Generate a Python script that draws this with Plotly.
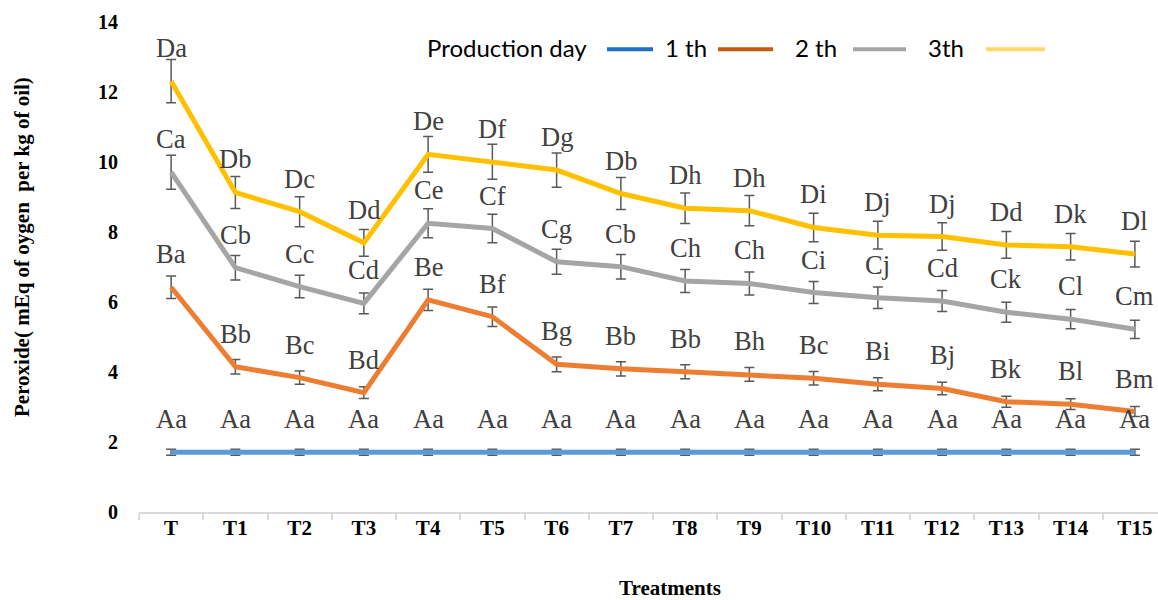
import plotly.graph_objects as go

# ---- data -----------------------------------------------------------------
treatments = ["T", "T1", "T2", "T3", "T4", "T5", "T6", "T7",
              "T8", "T9", "T10", "T11", "T12", "T13", "T14", "T15"]

day1 = [1.71, 1.71, 1.71, 1.71, 1.71, 1.71, 1.71, 1.71,
        1.71, 1.71, 1.71, 1.71, 1.71, 1.71, 1.71, 1.71]
day2 = [6.42, 4.15, 3.84, 3.41, 6.06, 5.58, 4.22, 4.09,
        4.01, 3.93, 3.82, 3.65, 3.53, 3.15, 3.08, 2.87]
day3 = [9.71, 6.98, 6.44, 5.96, 8.25, 8.10, 7.15, 7.01,
        6.60, 6.53, 6.27, 6.12, 6.03, 5.71, 5.51, 5.22]
day4 = [12.31, 9.13, 8.58, 7.69, 10.22, 10.01, 9.77, 9.10,
        8.68, 8.61, 8.13, 7.91, 7.87, 7.63, 7.58, 7.37]

letters1 = ["Aa"] * 16
letters2 = ["Ba", "Bb", "Bc", "Bd", "Be", "Bf", "Bg", "Bb",
            "Bb", "Bh", "Bc", "Bi", "Bj", "Bk", "Bl", "Bm"]
letters3 = ["Ca", "Cb", "Cc", "Cd", "Ce", "Cf", "Cg", "Cb",
            "Ch", "Ch", "Ci", "Cj", "Cd", "Ck", "Cl", "Cm"]
letters4 = ["Da", "Db", "Dc", "Dd", "De", "Df", "Dg", "Db",
            "Dh", "Dh", "Di", "Dj", "Dj", "Dd", "Dk", "Dl"]

legend_title = "Production day"
legend_names = ["1 th", "2 th", "3th"]

# ---- styling ----------------------------------------------------------------
W, H = 1158, 600
PLOT_L, PLOT_R, PLOT_T, PLOT_B = 139, 1158, 22, 512

line_colors = ["#5B9BD5", "#ED7D31", "#A5A5A5", "#FFC000"]
swatch_colors = ["#1F6FC5", "#C55A11", "#A5A5A5", "#FFD966"]
SERIF = "Liberation Serif"
LABEL_COLOR = "#404040"


def px_x(px):
    return (px - PLOT_L) / (PLOT_R - PLOT_L)


def px_y(py):
    return (PLOT_B - py) / (PLOT_B - PLOT_T)


fig = go.Figure()

series = [(day1, letters1), (day2, letters2), (day3, letters3), (day4, letters4)]
annotations = []
for (vals, letters), color in zip(series, line_colors):
    fig.add_trace(go.Scatter(
        x=treatments, y=vals, mode="lines",
        line=dict(color=color, width=5),
        error_y=dict(type="percent", value=5, color="#595959",
                     thickness=1.5, width=5),
        showlegend=False, hoverinfo="x+y",
    ))
    for t, v, lab in zip(treatments, vals, letters):
        annotations.append(dict(
            x=t, y=v, xref="x", yref="y", text=lab, showarrow=False,
            xanchor="center", yanchor="middle", yshift=33,
            font=dict(family=SERIF, size=26.5, color=LABEL_COLOR),
        ))

# legend row: text followed by its swatch
legend_items = [(legend_title, 425, swatch_colors[0], 607, 653),
                (legend_names[0], 663, swatch_colors[1], 718, 773),
                (legend_names[1], 793, swatch_colors[2], 853, 906),
                (legend_names[2], 926, swatch_colors[3], 986, 1045)]
shapes = []
for text, tx, sc, s0, s1 in legend_items:
    annotations.append(dict(
        x=px_x(tx), y=px_y(48), xref="paper", yref="paper", text=text,
        showarrow=False, xanchor="left", yanchor="middle",
        font=dict(family="Lato", size=24, color="#000000"),
    ))
    shapes.append(dict(
        type="line", xref="paper", yref="paper",
        x0=px_x(s0), x1=px_x(s1), y0=px_y(49.3), y1=px_y(49.3),
        line=dict(color=sc, width=4),
    ))

# axis titles
annotations.append(dict(
    x=px_x(670), y=px_y(588), xref="paper", yref="paper",
    text="Treatments", showarrow=False, xanchor="center", yanchor="middle",
    font=dict(family=SERIF, size=21, color="#000000", weight="bold"),
))
annotations.append(dict(
    x=px_x(22), y=px_y(247), xref="paper", yref="paper",
    text="Peroxide( mEq of oygen\u00a0 per kg of oil)", textangle=-90,
    showarrow=False, xanchor="center", yanchor="middle",
    font=dict(family=SERIF, size=21, color="#000000", weight="bold"),
))

fig.update_layout(
    width=W, height=H,
    margin=dict(l=PLOT_L, r=W - PLOT_R, t=PLOT_T, b=H - PLOT_B),
    paper_bgcolor="white", plot_bgcolor="white",
    showlegend=False,
    annotations=annotations, shapes=shapes,
    xaxis=dict(
        type="category", range=[-0.5, 15.36], tickson="boundaries",
        ticks="outside", ticklen=6, tickcolor="#D9D9D9", tickwidth=1.5,
        showline=True, linecolor="#D9D9D9", linewidth=2,
        showgrid=False, zeroline=False, ticklabelstandoff=-4,
        tickfont=dict(family=SERIF, size=21, color="#000000", weight="bold"),
    ),
    yaxis=dict(
        range=[0, 14], dtick=2, showgrid=False, showline=False,
        zeroline=False, ticks="", ticklabelstandoff=20,
        tickfont=dict(family=SERIF, size=20, color="#000000", weight="bold"),
    ),
)

fig.write_html("out.html")
